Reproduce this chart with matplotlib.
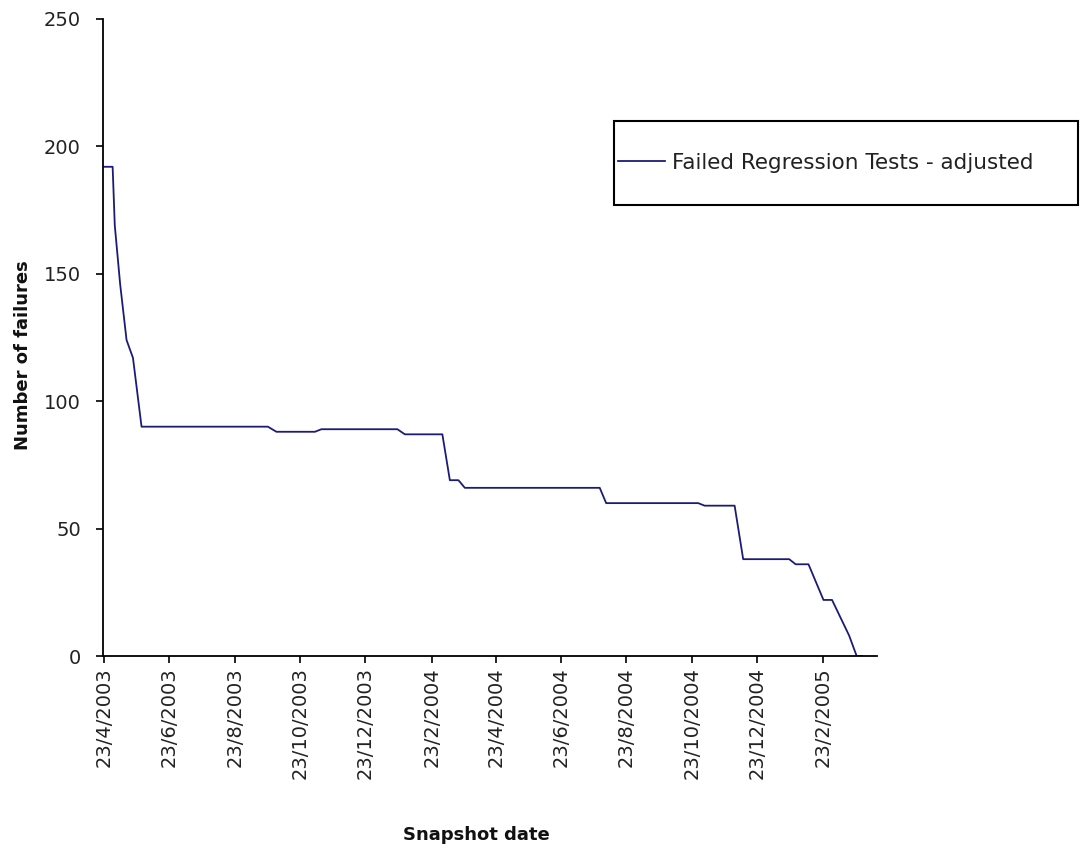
import matplotlib
matplotlib.use("Agg")
import matplotlib.pyplot as plt
from matplotlib.patches import Rectangle
import pandas as pd

# ---- data ----
snapshot_dates = [
    "2003-04-23", "2003-05-01", "2003-05-03", "2003-05-08", "2003-05-14",
    "2003-05-20", "2003-05-28", "2003-09-23", "2003-10-01", "2003-11-06",
    "2003-11-12", "2004-01-22", "2004-01-29", "2004-03-04", "2004-03-11",
    "2004-03-19", "2004-03-25", "2004-07-29", "2004-08-04", "2004-10-29",
    "2004-11-04", "2004-12-02", "2004-12-10", "2005-01-22", "2005-01-28",
    "2005-02-09", "2005-02-23", "2005-03-03", "2005-03-19", "2005-03-26",
    "2005-03-31",
]
failures = [
    192, 192, 169, 146, 124,
    117, 90, 90, 88, 88,
    89, 89, 87, 87, 69,
    69, 66, 66, 60, 60,
    59, 59, 38, 38, 36,
    36, 22, 22, 8, 0,
    0,
]
tick_dates = [
    "2003-04-23", "2003-06-23", "2003-08-23", "2003-10-23", "2003-12-23",
    "2004-02-23", "2004-04-23", "2004-06-23", "2004-08-23", "2004-10-23",
    "2004-12-23", "2005-02-23",
]
tick_labels = [
    "23/4/2003", "23/6/2003", "23/8/2003", "23/10/2003", "23/12/2003",
    "23/2/2004", "23/4/2004", "23/6/2004", "23/8/2004", "23/10/2004",
    "23/12/2004", "23/2/2005",
]
y_ticks = [0, 50, 100, 150, 200, 250]
series_name = "Failed Regression Tests - adjusted"

x = pd.to_datetime(snapshot_dates)
xt = pd.to_datetime(tick_dates)

plt.rcParams["font.family"] = ["DejaVu Sans"]

fig = plt.figure(figsize=(10.81, 8.48), dpi=100)
ax = fig.add_axes([103 / 1081, 1 - 656 / 848, (877 - 103) / 1081, (656 - 19) / 848])

line, = ax.plot(x, failures, color="#1c1c78", linewidth=1.3, label=series_name)

ax.set_xlim(pd.Timestamp("2003-04-22"), pd.Timestamp("2005-04-14"))
ax.set_ylim(0, 250)
ax.set_yticks(y_ticks)
ax.set_xticks(xt)
ax.set_xticklabels(tick_labels, rotation=90, fontsize=14, color="#222222")
ax.tick_params(axis="y", labelsize=14, labelcolor="#222222", direction="out",
               length=5, width=1.2, pad=11)
ax.tick_params(axis="x", direction="out", length=5, width=1.2, pad=3)

for s in ["top", "right"]:
    ax.spines[s].set_visible(False)
for s in ["left", "bottom"]:
    ax.spines[s].set_linewidth(1.3)
    ax.spines[s].set_color("black")

ax.set_ylabel("Number of failures", fontsize=13, fontweight="bold", color="#111111")
ax.yaxis.set_label_coords(-71 / 774, (656 - 355) / 637)
ax.set_xlabel("Snapshot date", fontsize=13, fontweight="bold", color="#111111")
ax.xaxis.set_label_coords((476 - 103) / 774, -(826 - 656) / 637)

# legend box
rect = Rectangle((614 / 1081, 1 - 205 / 848), (1078 - 614) / 1081, (205 - 121) / 848,
                 transform=fig.transFigure, fill=False, edgecolor="black",
                 linewidth=1.5, zorder=5)
fig.patches.append(rect)
leg = fig.legend(handles=[line], loc="center left",
                 bbox_to_anchor=(618 / 1081, 1 - 163 / 848), frameon=False,
                 fontsize=15.5, handlelength=2.2, handletextpad=0.3,
                 borderpad=0, borderaxespad=0)
for t in leg.get_texts():
    t.set_color("#222222")

fig.savefig("out.png", dpi=100)
